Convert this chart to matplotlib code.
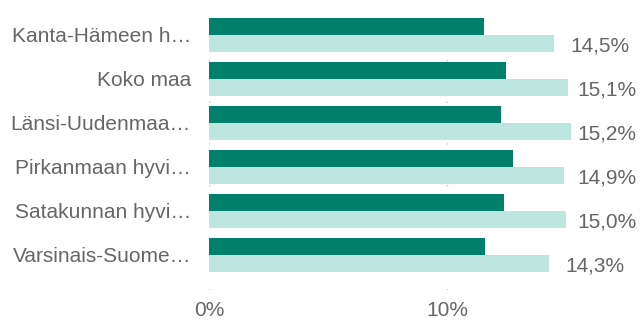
import matplotlib.pyplot as plt
import numpy as np

plt.rcParams['font.family'] = ['Liberation Sans', 'DejaVu Sans']

# data (percent)
categories = ['Kanta-Hämeen h…', 'Koko maa', 'Länsi-Uudenmaa…',
              'Pirkanmaan hyvi…', 'Satakunnan hyvi…', 'Varsinais-Suome…']
dark_values = [11.57, 12.48, 12.28, 12.79, 12.38, 11.58]
light_values = [14.5, 15.1, 15.2, 14.9, 15.0, 14.3]
value_labels = ['14,5%', '15,1%', '15,2%', '14,9%', '15,0%', '14,3%']
xticks = [0, 10]
xtick_labels = ['0%', '10%']

dark = '#00806b'
light = '#bee6e0'
text_color = '#666666'

W, H = 641, 320
fig = plt.figure(figsize=(W / 100, H / 100), dpi=100)
# axes placed in pixel coordinates
left, right, top, bottom = 209, 637, 5, 290
ax = fig.add_axes([left / W, 1 - bottom / H, (right - left) / W, (bottom - top) / H])

px_per_unit = 44.0
xmax = (right - left) / 23.8
ax.set_xlim(0, xmax)
y0 = -30 / px_per_unit
ax.set_ylim(y0 + (bottom - top) / px_per_unit, y0)

y = np.arange(len(categories))
h = 17 / px_per_unit
ax.barh(y - h / 2, dark_values, height=h, color=dark, zorder=3)
ax.barh(y + h / 2, light_values, height=h, color=light, zorder=3)

# value labels, kept inside the plot on the right
offset = 16 / 23.8
cap = (577.5 - left) / 23.8
for yi, v, lab in zip(y, light_values, value_labels):
    ax.text(min(v + offset, cap), yi + h / 2 + 0.05, lab, va='center', ha='left',
            fontsize=15, color=text_color, zorder=4)

ax.set_yticks(y)
ax.set_yticklabels(categories, fontsize=15, color=text_color)
ax.set_xticks(xticks)
ax.set_xticklabels(xtick_labels, fontsize=15, color=text_color)
ax.tick_params(axis='both', length=0)
ax.tick_params(axis='y', pad=13)
ax.tick_params(axis='x', pad=8)

for s in ax.spines.values():
    s.set_visible(False)
ax.grid(axis='x', color='#c8c8c8', linestyle=(0, (1, 14)), linewidth=1, zorder=0)
ax.set_axisbelow(True)

fig.savefig('out.png', dpi=100)
